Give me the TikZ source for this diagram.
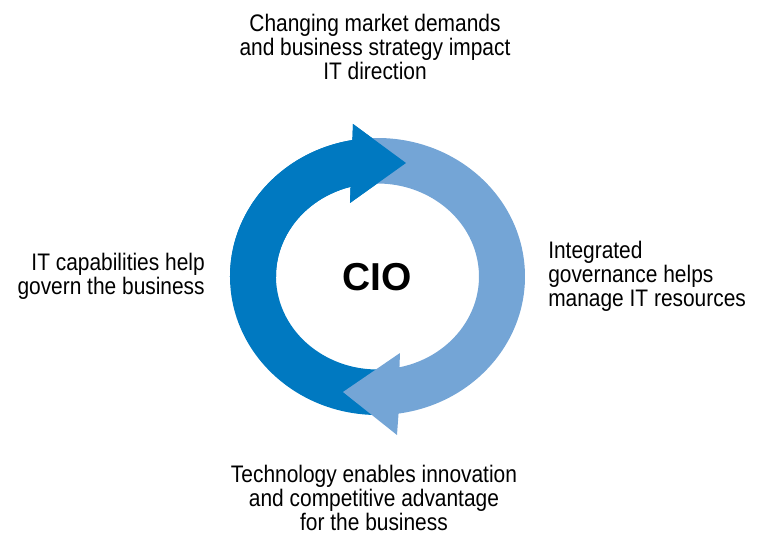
\documentclass[tikz,border=0pt]{standalone}
\usepackage{fontspec}
\setmainfont{Liberation Sans}
\newfontfamily\narrowfont{Liberation Sans}[FakeStretch=0.875]
\definecolor{cycdark}{RGB}{0,121,193}
\definecolor{cyclight}{RGB}{116,165,214}
% half rings of the cycle, centre at the origin
\def\darkhalf{(270:147.5 and 138.5) arc[start angle=270,end angle=99.8,x radius=147.5,y radius=138.5]
  -- (-24.5,152.5) -- (28.5,113.5) -- (-27.5,73.5)
  -- (105.4:101.5 and 93) arc[start angle=105.4,end angle=270,x radius=101.5,y radius=93] -- cycle}
\def\lighthalf{(92:147.5 and 138.5) arc[start angle=92,end angle=-81.8,x radius=147.5,y radius=138.5]
  -- (19.5,-158.5) -- (-34.5,-115.5) -- (22.5,-76.5)
  -- (-77.5:101.5 and 93) arc[start angle=-77.5,end angle=92,x radius=101.5,y radius=93] -- cycle}
\begin{document}
\begin{tikzpicture}[x=0.025cm,y=0.025cm,
  lbl/.style={font=\narrowfont\fontsize{17}{17}\selectfont,inner sep=0pt,text=black}]
  \useasboundingbox (-377.5,-257.5) rectangle (381.5,276.5);
  \fill[cycdark] \darkhalf;
  \fill[cyclight] \lighthalf;
  % dark head lies on top of the light tail
  \begin{scope}
    \clip (-200,0) rectangle (200,200);
    \fill[cycdark] \darkhalf;
  \end{scope}
  \node[font=\fontsize{27.7}{30}\selectfont\bfseries,inner sep=0pt] (cio) at (0,-0.5) {CIO};
  \node[lbl,align=center] (market) at (-2.5,229.5) {Changing market demands\\and business strategy impact\\IT direction};
  \node[lbl,align=right,anchor=east] (capab) at (-172.5,0) {IT capabilities help\\govern the business};
  \node[lbl,align=left,anchor=west] (govern) at (170.5,0.5) {Integrated\\governance helps\\manage IT resources};
  \node[lbl,align=center] (techno) at (-3.5,-221.5) {Technology enables innovation\\and competitive advantage\\for the business};
\end{tikzpicture}
\end{document}
